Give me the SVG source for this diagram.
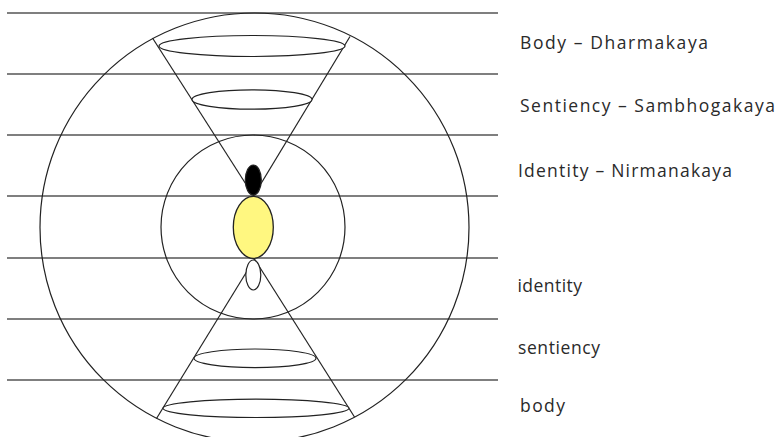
<svg xmlns="http://www.w3.org/2000/svg" width="776" height="437" viewBox="0 0 776 437">
<style>
.h{stroke:#555;stroke-width:1.3;fill:none}
.s{stroke:#222;stroke-width:1.2;fill:none}
.e{stroke:#222;stroke-width:1.2;fill:#fff}
.t{font-family:"Open Sans","Lato",sans-serif;font-size:17.5px;fill:#2a2a2a}
</style>
<rect width="776" height="437" fill="#fff"/>
<g id="levels">
<line class="h" x1="7" y1="13" x2="498" y2="13"/>
<line class="h" x1="7" y1="74" x2="498" y2="74"/>
<line class="h" x1="7" y1="135" x2="498" y2="135"/>
<line class="h" x1="7" y1="196" x2="498" y2="196"/>
<line class="h" x1="7" y1="258" x2="498" y2="258"/>
<line class="h" x1="7" y1="319" x2="498" y2="319"/>
<line class="h" x1="7" y1="380" x2="498" y2="380"/>
</g>
<g id="outer-circle"><circle class="s" cx="254.5" cy="227.5" r="214.5"/></g>
<g id="inner-circle"><circle class="s" cx="253" cy="227" r="92"/></g>
<g id="connectors">
<line class="s" x1="152.5" y1="38" x2="253.5" y2="196"/>
<line class="s" x1="350" y1="36.5" x2="253.5" y2="196"/>
<line class="s" x1="254.5" y1="259" x2="156.5" y2="418.5"/>
<line class="s" x1="254.5" y1="259" x2="354.5" y2="417"/>
</g>
<g id="top-cone">
<ellipse class="e" cx="252" cy="46" rx="93" ry="10.5"/>
<ellipse class="e" cx="252" cy="99.5" rx="60" ry="9.7"/>
</g>
<g id="bottom-cone">
<ellipse class="e" cx="255" cy="358.3" rx="61" ry="9.3"/>
<ellipse class="e" cx="256" cy="408.3" rx="93" ry="9.2"/>
</g>
<g id="black-seed"><ellipse cx="253.3" cy="180" rx="8" ry="15" fill="#000" stroke="#222" stroke-width="1.2"/></g>
<g id="yellow-center"><ellipse cx="253.3" cy="227.3" rx="20" ry="31" fill="#fff780" stroke="#222" stroke-width="1.3"/></g>
<g id="white-seed"><ellipse class="e" cx="253.3" cy="275" rx="7.5" ry="15"/></g>
<g id="labels">
<text class="t" x="520" y="48.5" textLength="188" lengthAdjust="spacing">Body – Dharmakaya</text>
<text class="t" x="520" y="111.5" textLength="255" lengthAdjust="spacing">Sentiency – Sambhogakaya</text>
<text class="t" x="518" y="176.5" textLength="214" lengthAdjust="spacing">Identity – Nirmanakaya</text>
<text class="t" x="517.5" y="291.5" textLength="64.5" lengthAdjust="spacing">identity</text>
<text class="t" x="518" y="353.5" textLength="82" lengthAdjust="spacing">sentiency</text>
<text class="t" x="520" y="411.5" textLength="45" lengthAdjust="spacing">body</text>
</g>
</svg>
